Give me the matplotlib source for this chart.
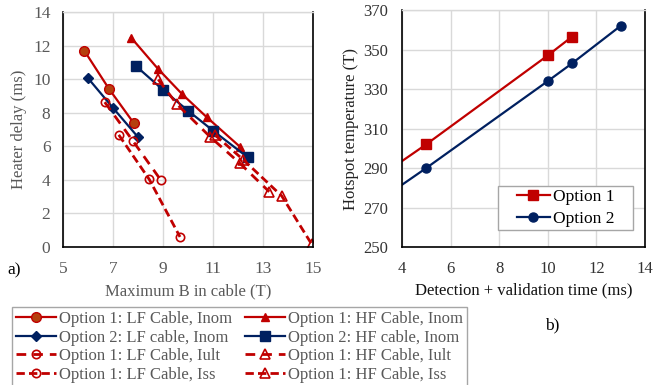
import numpy as np
import matplotlib.pyplot as plt
from matplotlib.patches import Rectangle

plt.rcParams['font.family'] = ['Liberation Serif', 'DejaVu Serif']

red = '#C00000'
blue = '#002060'
brown = '#B5400E'
grey_txt = '#595959'

# ---- panel a) : heater delay vs maximum field
B_lf1_nom  = [5.85, 6.84, 7.83]
t_lf1_nom  = [11.70, 9.42, 7.38]
B_lf2_nom  = [6.01, 7.01, 8.01]
t_lf2_nom  = [10.04, 8.27, 6.53]
B_hf1_nom  = [7.72, 8.79, 9.77, 10.76, 12.08]
t_hf1_nom  = [12.48, 10.63, 9.10, 7.72, 5.97]
B_hf2_nom  = [7.91, 9.01, 10.01, 11.01, 12.39]
t_hf2_nom  = [10.79, 9.35, 8.11, 6.92, 5.34]
B_lf1_ult  = [6.67, 7.81, 8.92]
t_lf1_ult  = [8.63, 6.29, 3.97]
B_lf1_ss   = [7.23, 8.45, 9.68]
t_lf1_ss   = [6.68, 4.03, 0.60]
B_hf1_ult  = [8.81, 9.55, 10.88, 12.08, 13.25]
t_hf1_ult  = [9.98, 8.52, 6.57, 4.98, 3.29]
B_hf1_ss   = [11.08, 12.21, 13.75, 14.95]
t_hf1_ss   = [6.67, 5.20, 3.04, 0.16]

# ---- panel b) : hotspot temperature vs detection time
tdet_opt1 = [3, 5, 10, 11]
T_opt1    = [285, 302, 347, 356.5]
tdet_opt2 = [3, 5, 10, 11, 13]
T_opt2    = [273, 290, 334, 343, 362]

fig = plt.figure( figsize = ( 6.53, 3.85 ), dpi = 100 )
ax1 = fig.add_axes( [ 63/653, 1 - 247/385, 250/653, 235/385 ] )
ax2 = fig.add_axes( [ 402/653, 1 - 247/385, 243/653, 237/385 ] )

lw = 1.6
dash_ult = ( 0, ( 3.5, 2.5 ) )
dash_ss  = ( 0, ( 3.0, 1.5 ) )

h = {}
h['lf1'], = ax1.plot( B_lf1_nom, t_lf1_nom, '-', c = red, lw = lw, marker = 'o', ms = 7,
                      mfc = brown, mec = red )
h['lf2'], = ax1.plot( B_lf2_nom, t_lf2_nom, '-', c = blue, lw = lw, marker = 'D', ms = 5,
                      mfc = blue, mec = blue )
h['hf1'], = ax1.plot( B_hf1_nom, t_hf1_nom, '-', c = red, lw = lw, marker = '^', ms = 6,
                      mfc = red, mec = red )
h['hf2'], = ax1.plot( B_hf2_nom, t_hf2_nom, '-', c = blue, lw = lw, marker = 's', ms = 7.5,
                      mfc = blue, mec = blue )
h['lfu'], = ax1.plot( B_lf1_ult, t_lf1_ult, c = red, lw = 2.0, ls = dash_ult, marker = 'o', ms = 6,
                      mfc = 'none', mec = red, mew = 1.2 )
h['lfs'], = ax1.plot( B_lf1_ss, t_lf1_ss, c = red, lw = 2.0, ls = dash_ss, marker = 'o', ms = 6,
                      mfc = 'none', mec = red, mew = 1.2 )
h['hfu'], = ax1.plot( B_hf1_ult, t_hf1_ult, c = red, lw = 2.0, ls = dash_ult, marker = '^', ms = 7,
                      mfc = 'none', mec = red, mew = 1.2 )
h['hfs'], = ax1.plot( B_hf1_ss, t_hf1_ss, c = red, lw = 2.0, ls = dash_ss, marker = '^', ms = 7,
                      mfc = 'none', mec = red, mew = 1.2 )

ax1.set_xlim( 5, 15 )
ax1.set_ylim( 0, 14 )
ax1.set_xticks( np.arange( 5, 16, 2 ) )
ax1.set_yticks( np.arange( 0, 15, 2 ) )
ax1.set_ylabel( 'Heater delay (ms)', fontsize = 12, color = grey_txt, labelpad = 4 )
ax1.set_xlabel( 'Maximum B in cable (T)', fontsize = 12, color = grey_txt, labelpad = 5 )
ax1.tick_params( labelsize = 12.5, colors = grey_txt, length = 0 )
ax1.tick_params( axis = 'x', pad = 10 )
ax1.tick_params( axis = 'y', pad = 9 )

h2a, = ax2.plot( tdet_opt1, T_opt1, '-', c = red, lw = lw, marker = 's', ms = 7,
                 mfc = red, mec = red )
h2b, = ax2.plot( tdet_opt2, T_opt2, '-', c = blue, lw = lw, marker = 'o', ms = 6.5,
                 mfc = blue, mec = blue )
ax2.set_xlim( 4, 14 )
ax2.set_ylim( 250, 370 )
ax2.set_xticks( np.arange( 4, 15, 2 ) )
ax2.set_yticks( np.arange( 250, 371, 20 ) )
ax2.set_ylabel( 'Hotspot temperature (T)', fontsize = 12, color = '#222222', labelpad = 3 )
ax2.set_xlabel( 'Detection + validation time (ms)', fontsize = 12, color = '#111111', labelpad = 4 )
ax2.tick_params( labelsize = 12, colors = '#333333', length = 0 )
ax2.tick_params( axis = 'x', pad = 10 )
ax2.tick_params( axis = 'y', pad = 10 )

# legend of panel b) with its own frame (Excel style, wide horizontal padding)
ax2.add_patch( Rectangle( ( 0.395, 0.072 ), 0.556, 0.185, transform = ax2.transAxes,
                          facecolor = 'white', edgecolor = '#A6A6A6', lw = 1.0, zorder = 4 ) )
leg2 = ax2.legend( [ h2a, h2b ], [ 'Option 1', 'Option 2' ], loc = 'center',
                   bbox_to_anchor = ( 0.673, 0.165 ), fontsize = 12.5, frameon = False,
                   handlelength = 1.9, borderpad = 0, labelspacing = 0.35, handletextpad = 0.15 )
leg2.set_zorder( 5 )

for ax in [ ax1, ax2 ]:
    ax.grid( True, color = '#D9D9D9', lw = 1.0 )
    ax.set_axisbelow( True )
    for s in [ 'left', 'bottom', 'right' ]:
        ax.spines[s].set_color( 'black' )
        ax.spines[s].set_linewidth( 1.2 )
    ax.spines['top'].set_color( '#D9D9D9' )
    ax.spines['top'].set_linewidth( 1.0 )

handles = [ h['lf1'], h['lf2'], h['lfu'], h['lfs'], h['hf1'], h['hf2'], h['hfu'], h['hfs'] ]
labels = [ 'Option 1: LF Cable, Inom', 'Option 2: LF cable, Inom',
           'Option 1: LF Cable, Iult', 'Option 1: LF Cable, Iss',
           'Option 1: HF Cable, Inom', 'Option 2: HF cable, Inom',
           'Option 1: HF Cable, Iult', 'Option 1: HF Cable, Iss' ]
fig.legend( handles, labels, ncol = 2, loc = 'upper left',
            bbox_to_anchor = ( 12/653, 1 - 307/385 ), borderaxespad = 0, fontsize = 12,
            fancybox = False, edgecolor = '#A6A6A6', framealpha = 1,
            handlelength = 2.4, handletextpad = 0.15, columnspacing = 0.8,
            labelspacing = 0.15, borderpad = 0.25, labelcolor = grey_txt )

fig.text( 7/653, 1 - 270/385, 'a)', fontsize = 12.5, va = 'center', ha = 'left' )
fig.text( 545/653, 1 - 325/385, 'b)', fontsize = 12.5, va = 'center', ha = 'left' )

plt.savefig( 'out.png', dpi = 100 )
